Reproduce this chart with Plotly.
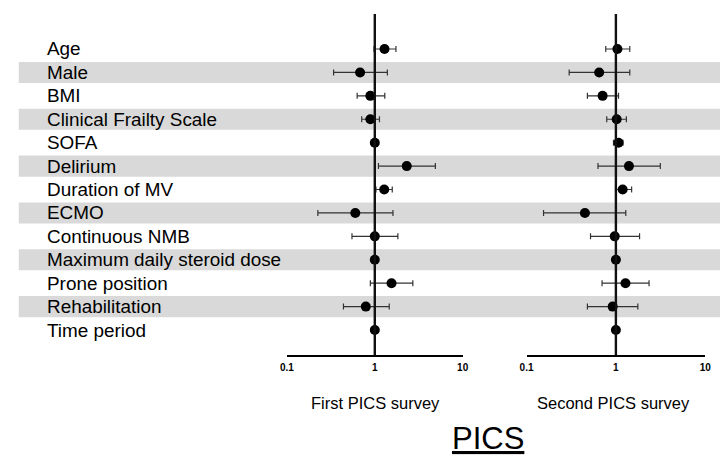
import plotly.graph_objects as go

variables = ["Age", "Male", "BMI", "Clinical Frailty Scale", "SOFA", "Delirium",
             "Duration of MV", "ECMO", "Continuous NMB", "Maximum daily steroid dose",
             "Prone position", "Rehabilitation", "Time period"]

first_or = [1.29, 0.68, 0.89, 0.89, 1.00, 2.31, 1.28, 0.60, 1.00, 1.00, 1.55, 0.79, 1.00]
first_lo = [0.98, 0.34, 0.63, 0.71, 0.96, 1.10, 1.03, 0.225, 0.55, 0.98, 0.89, 0.44, 0.98]
first_hi = [1.74, 1.39, 1.30, 1.13, 1.04, 4.89, 1.58, 1.61, 1.83, 1.02, 2.71, 1.46, 1.02]

second_or = [1.04, 0.65, 0.71, 1.02, 1.07, 1.40, 1.19, 0.45, 0.97, 1.00, 1.28, 0.92, 1.00]
second_lo = [0.77, 0.30, 0.48, 0.79, 0.94, 0.63, 0.99, 0.155, 0.52, 0.98, 0.70, 0.48, 0.98]
second_hi = [1.43, 1.43, 1.07, 1.31, 1.20, 3.14, 1.50, 1.29, 1.84, 1.02, 2.35, 1.76, 1.02]

tick_vals = [0.1, 1, 10]
tick_text = ["0.1", "1", "10"]
panel_titles = ["First PICS survey", "Second PICS survey"]
main_title = "PICS"
banded_rows = [1, 3, 5, 7, 9, 11]

W, H = 726, 456
FONT = "Liberation Sans, Arial, Helvetica, sans-serif"
rows = list(range(len(variables)))

fig = go.Figure()

def add_panel(est, lo, hi, xa):
    fig.add_trace(go.Scatter(
        x=est, y=rows, mode="markers", xaxis=xa, yaxis="y",
        marker=dict(color="black", size=10),
        error_x=dict(type="data", symmetric=False,
                     array=[h - e for h, e in zip(hi, est)],
                     arrayminus=[e - l for e, l in zip(est, lo)],
                     color="#333333", thickness=1.2, width=3),
        showlegend=False, hoverinfo="skip"))

add_panel(first_or, first_lo, first_hi, "x")
add_panel(second_or, second_lo, second_hi, "x2")

y_top_val = (14 - 49) / 23.42
y_bot_val = (355 - 49) / 23.42

shapes = []
for r in banded_rows:
    shapes.append(dict(type="rect", xref="paper", yref="y", x0=12 / W, x1=1,
                       y0=r - 0.45, y1=r + 0.45, fillcolor="#d9d9d9",
                       line=dict(width=0), layer="below"))
for xr in ["x", "x2"]:
    shapes.append(dict(type="line", xref=xr, yref="y", x0=1, x1=1,
                       y0=y_top_val, y1=y_bot_val,
                       line=dict(color="#111111", width=2.4), layer="above"))

annotations = []
for i, v in enumerate(variables):
    annotations.append(dict(text=v, xref="paper", yref="y", x=38.5 / W, y=i,
                            xanchor="left", yanchor="middle", showarrow=False,
                            font=dict(family=FONT, size=18.9, color="black")))
annotations.append(dict(text=panel_titles[0], xref="paper", yref="paper",
                        x=375 / W, y=(H - 403) / H, xanchor="center", yanchor="middle",
                        showarrow=False, font=dict(family=FONT, size=16.5, color="black")))
annotations.append(dict(text=panel_titles[1], xref="paper", yref="paper",
                        x=618 / W, y=(H - 403) / H, xanchor="center", yanchor="middle",
                        showarrow=False, font=dict(family=FONT, size=16.5, color="black")))
annotations.append(dict(text="<u>" + main_title + "</u>", xref="paper", yref="paper",
                        x=490 / W, y=(H - 438) / H, xanchor="center", yanchor="middle",
                        showarrow=False, font=dict(family=FONT, size=31, color="black")))

xaxis_common = dict(type="log", range=[-1, 1], showgrid=False, zeroline=False,
                    showline=True, linecolor="black", linewidth=1.5,
                    ticks="inside", ticklen=4, tickwidth=1.5, tickcolor="black",
                    tickvals=tick_vals, ticktext=tick_text, ticklabelstandoff=2,
                    tickfont=dict(family=FONT, size=10, color="black", weight="bold"),
                    fixedrange=True)

fig.update_layout(
    width=W, height=H,
    margin=dict(l=0, r=0, t=0, b=0),
    paper_bgcolor="white", plot_bgcolor="rgba(0,0,0,0)",
    xaxis=dict(domain=[285 / W, 464 / W], anchor="y", **xaxis_common),
    xaxis2=dict(domain=[529 / W, 711 / W], anchor="y", **xaxis_common),
    yaxis=dict(domain=[(H - 355) / H, (H - 14) / H], range=[y_bot_val, y_top_val],
               visible=False, fixedrange=True),
    shapes=shapes,
    annotations=annotations,
)

fig.write_html("out.html", config={"displayModeBar": False},
               post_script="document.body.style.margin='0';document.body.style.overflow='hidden';")
